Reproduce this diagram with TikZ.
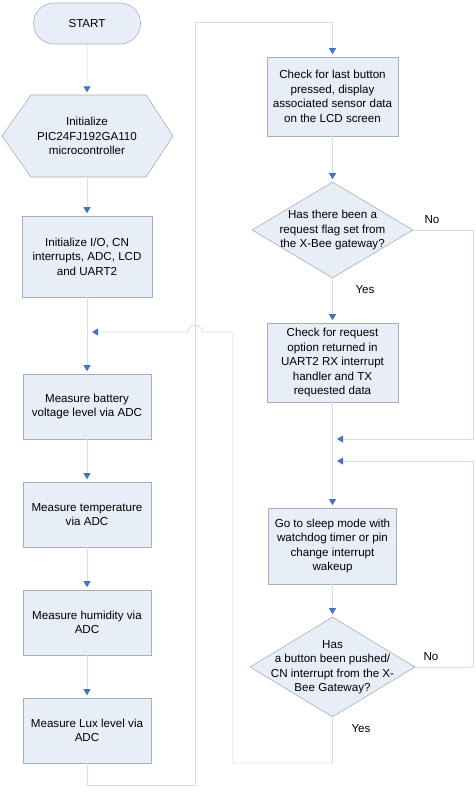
\documentclass[tikz,border=0pt]{standalone}
\usepackage{fontspec}
\setmainfont{Liberation Sans}
\usetikzlibrary{arrows.meta,shapes.geometric,shapes.misc}
\definecolor{boxfill}{HTML}{E8EEF7}
\definecolor{boxline}{HTML}{A8AFB8}
\definecolor{connline}{HTML}{D3DFEF}
\definecolor{arrowblue}{HTML}{4472C4}
\tikzset{
  x=1pt, y=1pt,
  every node/.style={font=\fontsize{11.6}{14.5}\selectfont, align=center, inner sep=0pt},
  procbox/.style={draw=boxline, fill=boxfill, line width=0.6pt, rectangle},
  decbox/.style={draw=boxline, fill=boxfill, line width=0.6pt, diamond},
  termbox/.style={draw=boxline, fill=boxfill, line width=0.6pt, rounded rectangle},
  conn/.style={draw=connline, line width=0.9pt},
  arr/.style={conn, -{Triangle[color=arrowblue, length=6pt, width=7pt]}, shorten >=2.5pt},
  lbl/.style={font=\fontsize{11.6}{14.5}\selectfont},
}
\begin{document}
\begin{tikzpicture}
\useasboundingbox (0,0) rectangle (475,-796);
% left column
\node[termbox, minimum width=107, minimum height=41] (start) at (87,-23.5) {START};
\filldraw[draw=boxline, fill=boxfill, line width=0.6pt]
  (2,-136) -- (31,-95) -- (146,-95) -- (173,-136) -- (146,-177) -- (31,-177) -- cycle;
\node[minimum width=171, minimum height=82] (init) at (87,-136) {Initialize\\PIC24FJ192GA110\\microcontroller};
\node[procbox, minimum width=130, minimum height=81] (io) at (87,-256.5) {Initialize I/O, CN\\interrupts, ADC, LCD\\and UART2};
\node[procbox, minimum width=128, minimum height=65] (bat) at (87,-406.5) {Measure battery\\voltage level via ADC};
\node[procbox, minimum width=128, minimum height=65] (temp) at (87,-514.5) {Measure temperature\\via ADC};
\node[procbox, minimum width=128, minimum height=65] (hum) at (87,-622.5) {Measure humidity via\\ADC};
\node[procbox, minimum width=128, minimum height=65] (lux) at (87,-730.5) {Measure Lux level via\\ADC};
% right column
\node[procbox, minimum width=131, minimum height=79] (chk) at (332.5,-96.5) {Check for last button\\pressed, display\\associated sensor data\\on the LCD screen};
\node[decbox, minimum width=161, minimum height=96] (d1) at (332.5,-230) {};
\node at (d1) {Has there been a\\request flag set from\\the X-Bee gateway?};
\node[procbox, minimum width=131, minimum height=79] (req) at (332.5,-362.5) {Check for request\\option returned in\\UART2 RX interrupt\\handler and TX\\requested data};
\node[procbox, minimum width=128, minimum height=76] (sleep) at (332.5,-546) {Go to sleep mode with\\watchdog timer or pin\\change interrupt\\wakeup};
\node[decbox, minimum width=165, minimum height=100] (d2) at (332.5,-667) {};
\node at (d2) {Has\\a button been pushed/\\CN interrupt from the X-\\Bee Gateway?};
% coordinates
\coordinate (j1) at (92,-332);
\coordinate (j2) at (337,-439);
\coordinate (j3) at (337,-461);
% connectors
\draw[arr] (start) -- (init);
\draw[arr] (init) -- (io);
\draw[arr] (io) -- (bat);
\draw[arr] (bat) -- (temp);
\draw[arr] (temp) -- (hum);
\draw[arr] (hum) -- (lux);
\draw[arr] (lux.south) -- (87,-785) -- (195,-785) -- (195,-22) -- (332.5,-22) -- (chk.north);
\draw[arr] (chk) -- (d1);
\draw[arr] (d1) -- (req);
\draw[arr] (req) -- (sleep);
\draw[arr] (sleep) -- (d2);
\draw[conn, -{Triangle[color=arrowblue, length=6pt, width=7pt]}]
  (d2.south) -- (332.5,-763) -- (233,-763) -- (233,-332) -- (202,-332) arc (0:180:7) -- (j1);
\draw[conn, -{Triangle[color=arrowblue, length=6pt, width=7pt]}]
  (d1.east) -- (473,-230) -- (473,-439) -- (j2);
\draw[conn, -{Triangle[color=arrowblue, length=6pt, width=7pt]}]
  (d2.east) -- (473,-667) -- (473,-461) -- (j3);
% labels
\node[lbl] at (432,-220) {No};
\node[lbl] at (365,-290) {Yes};
\node[lbl] at (431,-657) {No};
\node[lbl] at (361,-729) {Yes};
\end{tikzpicture}
\end{document}
